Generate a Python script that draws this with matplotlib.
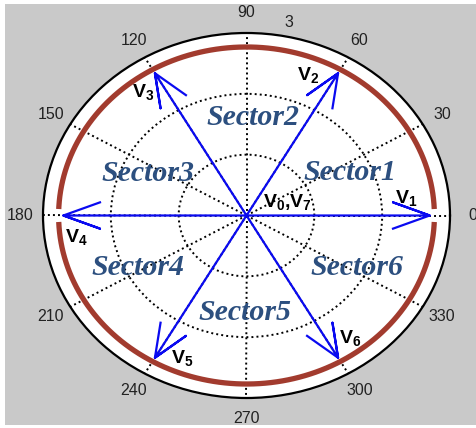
import numpy as np
import matplotlib
matplotlib.use("Agg")
import matplotlib.pyplot as plt
from matplotlib.patches import Rectangle

plt.rcParams["mathtext.fontset"] = "custom"
plt.rcParams["mathtext.rm"] = "Liberation Sans"
plt.rcParams["mathtext.bf"] = "Liberation Sans:bold"

# --- data -------------------------------------------------------------
vector_angles = [0, 60, 120, 180, 240, 300]          # degrees
vector_magnitude = 2.7
vector_names = ["V_1", "V_2", "V_3", "V_4", "V_5", "V_6"]
zero_vector_name = "V_0{,}V_7"
sector_names = ["Sector1", "Sector2", "Sector3", "Sector4", "Sector5", "Sector6"]
theta_ticks = list(range(0, 360, 30))
r_ticks = [1, 2, 3]
r_max = 3
ring_radius = 2.77

# label placements in (angle deg, radius)
vector_label_pos = [(7.0, 2.37), (68.6, 2.48), (126.9, 2.54),
                    (188.0, 2.54), (247.9, 2.53), (307.2, 2.53)]
zero_label_pos = (20.4, 0.64)
sector_label_pos = [(24.6, 1.68), (86.6, 1.62), (154.3, 1.61),
                    (207.9, 1.81), (269.2, 1.59), (332.5, 1.84)]

# --- figure -----------------------------------------------------------
W, H = 476, 428
fig = plt.figure(figsize=(W / 100, H / 100), dpi=100, facecolor="white")
fig.patches.append(Rectangle((5 / W, 3 / H), 471 / W, 421 / H,
                             transform=fig.transFigure, facecolor="#c9c9c9",
                             edgecolor="none", zorder=-10))

ax = fig.add_axes([43 / W, 30 / H, 407 / W, 365 / H], projection="polar")
ax.set_aspect("auto")
ax.set_facecolor("white")
ax.set_rlim(0, r_max)
ax.set_thetagrids(theta_ticks, labels=[""] * len(theta_ticks))
ax.set_rgrids(r_ticks[:-1], labels=[""] * (len(r_ticks) - 1))
ax.grid(True, color="black", linestyle=(0, (1, 1.6)), linewidth=1.4)
ax.spines["polar"].set_linewidth(1.6)
ax.spines["polar"].set_color("black")
ax.tick_params(length=0)

# outer ring in two halves
for a0, a1 in [(2.2, 177.8), (182.2, 357.8)]:
    th = np.radians(np.linspace(a0, a1, 200))
    ax.plot(th, np.full_like(th, ring_radius), color="#a23b2e",
            linewidth=3.8, solid_capstyle="butt", zorder=3)

# compass-style space vectors
shaft_x = np.array([0, 1, 0.8, 1, 0.8])
shaft_y = np.array([0, 0, 0.08, 0, -0.08])
for ang in vector_angles:
    z = vector_magnitude * (shaft_x + 1j * shaft_y) * np.exp(1j * np.radians(ang))
    ax.plot(np.angle(z), np.abs(z), color="#0a0af0", linewidth=1.6, zorder=4)

# angle labels around the rim
for t in theta_ticks:
    ax.text(np.radians(t), 3.33, str(t), ha="center", va="center",
            fontsize=11.5, family="Liberation Sans", color="#222222")
ax.text(np.radians(79), 3.24, str(r_ticks[-1]), ha="center", va="center",
        fontsize=11.5, family="Liberation Sans", color="#222222")

# vector labels
for name, (a, r) in zip(vector_names, vector_label_pos):
    ax.text(np.radians(a), r, rf"$\mathbf{{{name}}}$", ha="center",
            va="center", fontsize=14, color="black", zorder=6)
ax.text(np.radians(zero_label_pos[0]), zero_label_pos[1],
        rf"$\mathbf{{{zero_vector_name}}}$", ha="center", va="center",
        fontsize=14, color="black", zorder=6)

# sector labels
for name, (a, r) in zip(sector_names, sector_label_pos):
    ax.text(np.radians(a), r, name, ha="center", va="center", fontsize=21.5,
            family="Liberation Serif", fontweight="bold", fontstyle="italic",
            color="#2c4f7f", zorder=5)

fig.savefig("out.png", dpi=100, facecolor="white")
